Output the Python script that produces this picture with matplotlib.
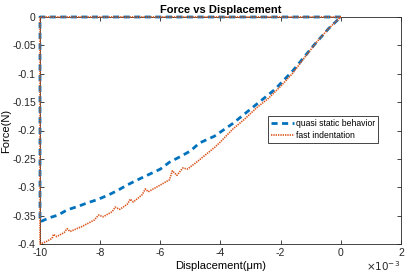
import numpy as np
import matplotlib.pyplot as plt

plt.rcParams['font.family'] = ['Liberation Sans', 'DejaVu Sans']

# displacement in units of 1e-3, force in N
quasi_x = [0, -10, -10, -9.7, -9.4, -9.1, -8.7, -8.4, -8.1, -7.7, -7.4, -7.1,
           -6.8, -6.4, -6.0, -5.7, -5.3, -5.0, -4.7, -4.2, -3.6, -2.9, -2.2,
           -1.6, -0.9, -0.4, 0]
quasi_f = [0, 0, -0.361, -0.354, -0.349, -0.340, -0.333, -0.327, -0.322,
           -0.313, -0.305, -0.296, -0.288, -0.278, -0.268, -0.256, -0.245,
           -0.236, -0.222, -0.210, -0.188, -0.158, -0.128, -0.095, -0.050,
           -0.020, 0]

fast_x = [0, -10, -10, -9.8, -9.6, -9.55, -9.45, -9.2, -9.1, -9.0, -8.6, -8.2,
          -8.05, -7.9, -7.6, -7.5, -7.35, -7.1, -7.0, -6.9, -6.6, -6.5, -6.4,
          -6.0, -5.7, -5.6, -5.45, -5.25, -5.1, -4.8, -4.5, -4.2, -4.0, -3.6,
          -3.2, -2.8, -2.4, -2.0, -1.6, -1.2, -0.8, -0.4, 0]
fast_f = [0, 0, -0.400, -0.396, -0.390, -0.383, -0.387, -0.380, -0.373,
          -0.378, -0.369, -0.358, -0.349, -0.352, -0.343, -0.335, -0.339,
          -0.330, -0.321, -0.326, -0.313, -0.303, -0.308, -0.296, -0.287,
          -0.271, -0.279, -0.266, -0.268, -0.256, -0.243, -0.230, -0.220,
          -0.198, -0.180, -0.160, -0.143, -0.122, -0.099, -0.071, -0.044,
          -0.020, 0]

xticks = [-10, -8, -6, -4, -2, 0, 2]
yticks = [0, -0.05, -0.1, -0.15, -0.2, -0.25, -0.3, -0.35, -0.4]
ytick_labels = ['0', '-0.05', '-0.1', '-0.15', '-0.2', '-0.25', '-0.3', '-0.35', '-0.4']

fig = plt.figure(figsize=(4.06, 2.77), dpi=100)
ax = fig.add_axes([40/406, 33/277, 361/406, 227/277])

ax.plot(np.array(quasi_x) * 1e-3, quasi_f, '--', color='#0072BD', lw=2,
        dashes=(2.2, 1.6), label='quasi static behavior', clip_on=False, zorder=3)
ax.plot(np.array(fast_x) * 1e-3, fast_f, ':', color='#D95319', lw=1.2,
        dashes=(0.8, 0.6), label='fast indentation', clip_on=False, zorder=4)

ax.set_xlim(-10e-3, 2e-3)
ax.set_ylim(-0.4, 0)
ax.set_xticks(np.array(xticks) * 1e-3)
ax.set_xticklabels([str(t) for t in xticks])
ax.set_yticks(yticks)
ax.set_yticklabels(ytick_labels)

for s in ax.spines.values():
    s.set_color('#262626')
    s.set_linewidth(0.6)
    s.set_zorder(1)
ax.tick_params(direction='in', top=True, right=True, length=3, width=0.6,
               labelsize=7.5, colors='#262626', pad=3)

ax.set_title('Force vs Displacement', fontsize=8, fontweight='bold', pad=3)
ax.set_xlabel('Displacement(μm)', fontsize=8, labelpad=2)
ax.set_ylabel('Force(N)', fontsize=8)
ax.yaxis.set_label_coords(-0.081, 0.5)
fig.text(0.985, 0.015, r'$\times10^{-3}$', fontsize=7.5, ha='right', va='bottom',
         color='#262626')

leg = ax.legend(loc='upper left', bbox_to_anchor=(0.632, 0.563), fontsize=6.2,
                fancybox=False, framealpha=1, edgecolor='#262626',
                handlelength=2.6, handletextpad=0.3, borderpad=0.35,
                labelspacing=0.35, borderaxespad=0)
leg.get_frame().set_linewidth(0.6)

fig.savefig('out.png', dpi=100)
